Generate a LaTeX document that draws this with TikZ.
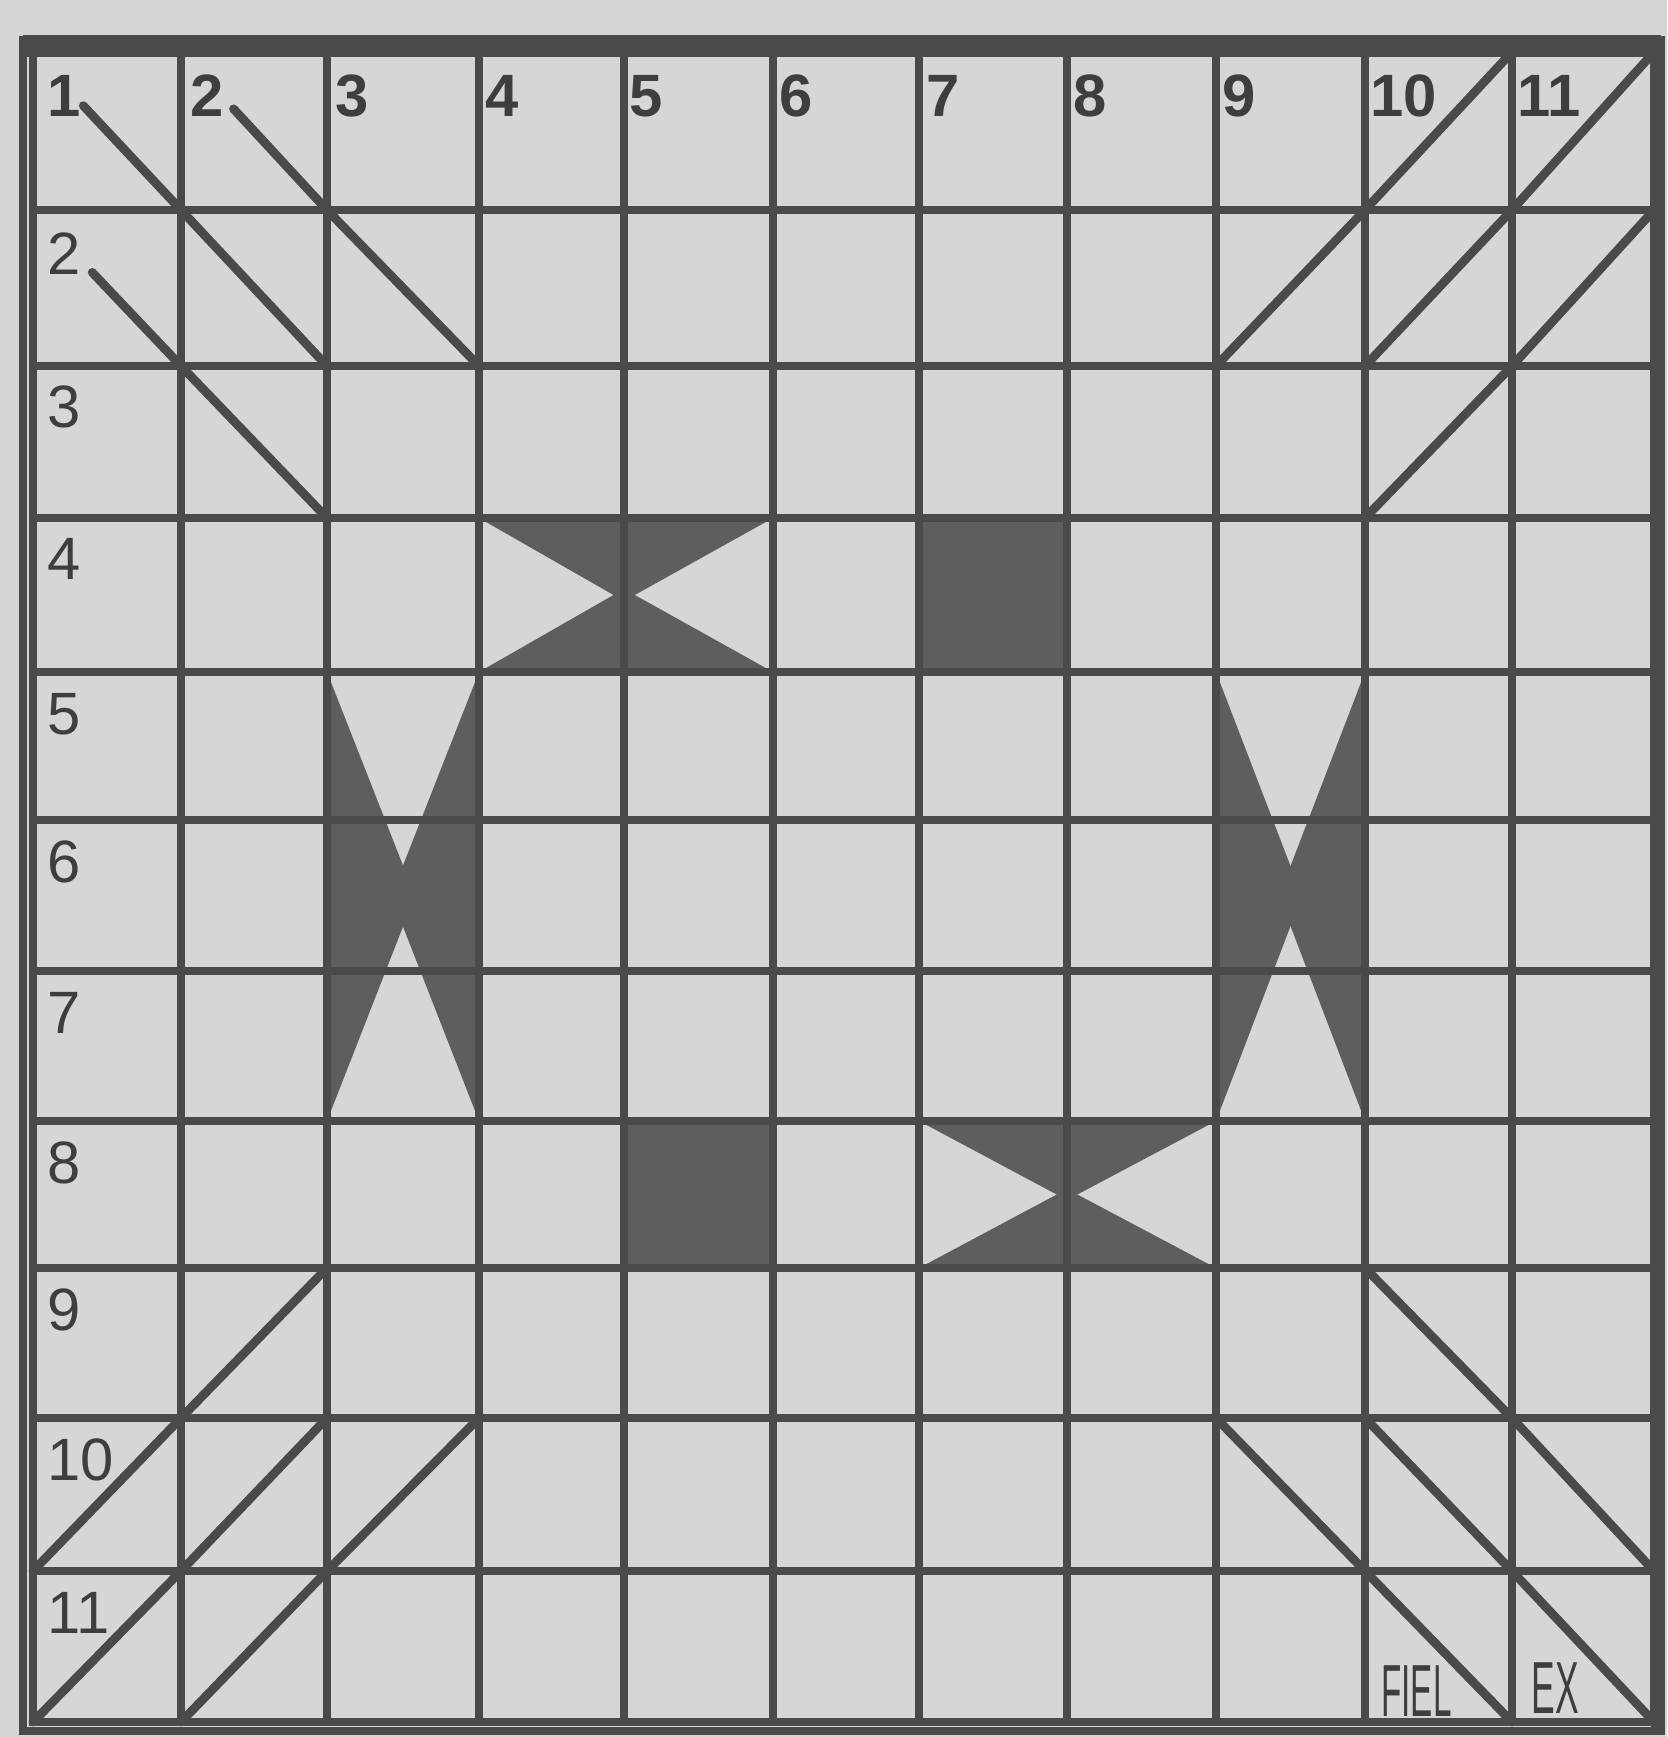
\documentclass[tikz,border=0pt]{standalone}
\usepackage{fontspec}
\setmainfont{Liberation Sans}
\usetikzlibrary{calc}
\definecolor{paper}{HTML}{D6D6D6}
\definecolor{ink}{HTML}{4A4A4A}
\definecolor{shade}{HTML}{5E5E5E}
\definecolor{txt}{HTML}{3E3E3E}
\begin{document}
\begin{tikzpicture}[x=0.01cm,y=-0.01cm,
  gridline/.style={draw=ink,line width=2.1pt},
  diag/.style={draw=ink,line width=2.5pt,line cap=round},
  frame/.style={draw=ink,line width=2.5pt},
  darkfill/.style={fill=shade,draw=none},
  toplab/.style={text=txt,inner sep=0pt,anchor=base west,font=\bfseries\fontsize{17}{19}\selectfont},
  lab/.style={text=txt,inner sep=0pt,anchor=base west,font=\fontsize{17}{19}\selectfont},
  sig/.style={text=txt,inner sep=0pt,anchor=base west,font=\fontsize{21}{22}\selectfont}]
\useasboundingbox (0,0) rectangle (1667,1737);
\fill[paper] (0,0) rectangle (1667,1737);
% grid coordinates
\def\xs{33,181,327,479,624,773,919,1067,1216,1365,1512,1654}
\def\ys{52,210,366,518,672,820,971,1121,1268,1418,1571,1722}
\foreach \x [count=\i from 0] in \xs {
  \foreach \y [count=\j from 0] in \ys {
    \coordinate (p\i-\j) at (\x,\y);
  }
}
% dark shapes
\fill[darkfill] (479,518) -- (773,518) -- (624,601) -- cycle;
\fill[darkfill] (479,672) -- (773,672) -- (624,589) -- cycle;
\fill[darkfill] (919,518) rectangle (1067,672);
\fill[darkfill] (327,672) -- (327,1121) -- (415,896) -- cycle;
\fill[darkfill] (479,672) -- (479,1121) -- (391,896) -- cycle;
\fill[darkfill] (1216,672) -- (1216,1121) -- (1302,896) -- cycle;
\fill[darkfill] (1365,672) -- (1365,1121) -- (1279,896) -- cycle;
\fill[darkfill] (624,1121) rectangle (773,1268);
\fill[darkfill] (919,1121) -- (1216,1121) -- (1067,1200) -- cycle;
\fill[darkfill] (919,1268) -- (1216,1268) -- (1067,1189) -- cycle;
% grid lines
\foreach \i in {1,...,10} { \draw[gridline] (p\i-0) -- (p\i-11); }
\foreach \j in {1,...,10} { \draw[gridline] (p0-\j) -- (p11-\j); }
% frame
\draw[frame] (p0-0) rectangle (p11-11);
\draw[draw=ink,line width=2.2pt] (23,40) rectangle (1661,1731);
\draw[draw=ink,line width=6pt] (23,46) -- (1661,46);
\draw[draw=ink,line width=3pt] (1656,40) -- (1656,1727);
% diagonals top-left
\draw[diag] ($(p0-0)!0.34!(p1-1)$) -- (p1-1) -- (p2-2);
\draw[diag] ($(p1-0)!0.36!(p2-1)$) -- (p2-1) -- (p3-2);
\draw[diag] ($(p0-1)!0.40!(p1-2)$) -- (p1-2) -- (p2-3);
% top-right
\draw[diag] (p11-0) -- (p10-1) -- (p9-2);
\draw[diag] (p10-0) -- (p9-1) -- (p8-2);
\draw[diag] (p11-1) -- (p10-2) -- (p9-3);
% bottom-left
\draw[diag] (p2-8) -- (p1-9) -- (p0-10);
\draw[diag] (p3-9) -- (p2-10) -- (p1-11);
\draw[diag] (p2-9) -- (p1-10) -- (p0-11);
% bottom-right
\draw[diag] (p9-8) -- (p10-9) -- (p11-10);
\draw[diag] (p8-9) -- (p9-10) -- (p10-11);
\draw[diag] (p9-9) -- (p10-10) -- (p11-11);
% top labels
\foreach \x [count=\k] in {47,190,335,485,629,779,926,1073,1222,1370,1517} {
  \node[toplab] (top\k) at (\x,117) {\k};
}
% left labels
\foreach \y [count=\k from 2] in {275,428,580,734,882,1033,1183,1330,1480,1633} {
  \node[lab] (left\k) at (47,\y) {\k};
}
\node[sig,xscale=0.45] (fiel) at (1381,1716) {FIEL};
\node[sig,xscale=0.48] (ex) at (1531,1713) {EX};
\end{tikzpicture}
\end{document}
